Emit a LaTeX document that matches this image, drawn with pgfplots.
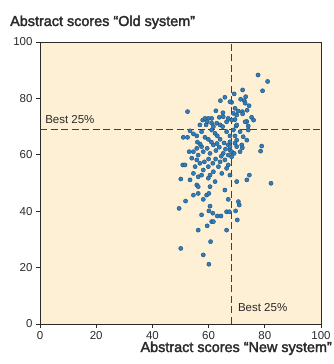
\documentclass[border=0pt]{standalone}
\usepackage{pgfplots}
\pgfplotsset{compat=1.18}
\usepackage{fontspec}
\setmainfont{Liberation Sans}
\newfontfamily\medfont[FakeBold=2.2]{Liberation Sans}
\definecolor{bgc}{HTML}{FEF0D5}
\definecolor{dotc}{HTML}{2F7DBB}
\definecolor{dote}{HTML}{1E4F78}
\definecolor{txt}{HTML}{2A2A2A}
\begin{document}
\begin{tikzpicture}
\useasboundingbox (-40bp,-40bp) rectangle (294bp,324bp);
\begin{axis}[
  scale only axis, width=281bp, height=282bp,
  xmin=0, xmax=100, ymin=0, ymax=100,
  xtick={0,20,...,100}, ytick={0,20,...,100},
  tick align=outside, major tick length=4bp,
  xtick pos=bottom, ytick pos=left,
  axis background/.style={fill=bgc},
  axis line style={draw=txt, line width=0.8pt},
  tick style={draw=txt, line width=0.7pt},
  /pgf/number format/assume math mode=true,
  ticklabel style={font=\fontsize{11.5bp}{13bp}\selectfont, text=txt},
  clip=false,
]
\draw[dash pattern=on 7bp off 3.5bp, draw=black!75, line width=0.8pt] (axis cs:0,69) -- (axis cs:100,69);
\draw[dash pattern=on 7bp off 3.5bp, draw=black!75, line width=0.8pt] (axis cs:68,0) -- (axis cs:68,100);
\addplot[only marks, mark=*, mark size=2.1bp, mark options={fill=dotc, draw=dote, line width=0.4pt}] coordinates {
(77.6,88.3) (81.0,86.0) (79.2,82.7) (72.1,83.0) (69.1,81.6) (65.8,80.4) (64.2,79.2) (71.4,79.7)
(73.2,80.6) (72.7,79.2) (68.2,78.6) (74.4,77.4) (62.6,75.6) (69.4,76.5) (70.5,75.5) (72.0,75.3)
(73.7,75.8) (65.1,74.9) (65.2,73.5) (67.0,72.9) (69.4,72.5) (72.1,74.5) (75.3,73.3) (76.0,72.3)
(73.6,71.8) (74.1,70.2) (69.8,70.2) (74.1,68.8) (52.5,75.3) (67.6,78.8) (70.0,74.1) (68.8,74.7)
(63.8,73.3) (61.1,72.9) (59.9,72.9) (73.0,78.3)
(57.9,72.3) (58.7,72.9) (59.5,71.7) (56.9,70.6) (59.1,70.6) (61.1,71.2) (61.7,70.0) (62.9,71.2)
(64.1,70.6) (65.0,70.0) (66.4,71.7) (68.2,72.3) (70.0,70.6) (73.0,71.7)
(51.0,66.2) (52.5,66.2) (53.4,68.5) (54.6,67.4) (55.8,66.7) (57.5,68.2) (58.7,66.2) (59.9,65.5)
(61.1,68.8) (62.3,67.6) (63.1,66.7) (64.1,65.5) (66.4,68.2) (67.6,66.7) (68.8,68.8) (69.4,66.7)
(70.0,65.2) (71.2,68.2) (72.3,66.4) (73.6,65.2)
(54.6,61.1) (55.8,62.3) (56.3,59.9) (57.5,62.9) (58.1,61.1) (59.5,62.3) (60.5,60.5) (61.7,63.5)
(62.6,61.5) (63.8,62.7) (65.2,60.5) (67.0,63.5) (67.6,61.7) (68.2,59.3) (70.0,62.9) (71.2,61.1)
(53.1,61.1) (54.0,58.8) (55.8,58.2) (71.8,63.5) (72.0,62.5) (78.9,63.1) (78.5,61.3)
(50.8,56.4) (51.6,56.4) (55.2,55.8) (56.9,57.0) (58.1,54.6) (59.9,55.8) (60.5,52.8) (61.7,54.0)
(63.5,55.8) (64.7,53.4) (66.4,55.2) (67.6,52.8) (50.1,51.4) (54.6,53.4) (56.3,52.2) (57.5,52.8)
(74.5,52.8)
(53.4,51.1) (59.9,51.7) (62.3,50.5) (70.0,50.5) (73.6,51.1) (82.2,49.9) (55.8,49.3) (56.3,48.7)
(60.5,48.7) (56.3,46.3) (54.6,45.7) (59.3,45.7) (60.1,46.3) (58.1,44.2) (65.8,47.5) (67.0,44.2)
(70.6,43.4) (70.9,42.2) (51.8,43.6) (49.5,41.0) (57.5,38.7) (60.5,41.8) (60.1,40.1) (61.5,39.3)
(63.1,38.3) (64.4,38.3) (66.4,39.8) (67.4,39.8) (69.6,40.1) (70.2,36.9) (61.1,36.3) (61.7,36.3)
(59.5,34.8) (56.3,33.3) (66.4,33.3) (60.7,29.2) (50.1,26.8) (58.1,24.5) (60.1,21.2)
(67.6,64.6) (67.6,62.9) (68.2,61.1) (67.0,59.9) (69.4,64.1) (69.1,60.5) (65.8,58.2) (67.0,56.4)
(64.1,57.5) (62.5,58.5) (60.0,58.5) (58.5,57.5) (57.0,63.8) (61.0,64.5) (63.0,64.0) (65.5,64.2)
(66.0,62.0) (64.5,59.5) (61.5,57.0) (56.0,64.5)
};
\node[anchor=base west, font=\fontsize{11.5bp}{13bp}\selectfont, text=txt, inner sep=0pt] at (axis cs:1.8,71.2) {Best 25\%};
\node[anchor=base west, font=\fontsize{11.5bp}{13bp}\selectfont, text=txt, inner sep=0pt] at (axis cs:70.4,4.3) {Best 25\%};
\end{axis}
\node[anchor=base west, font=\medfont\fontsize{14.4bp}{16bp}\selectfont, text=txt, inner sep=0pt] at (-30bp,298bp) {Abstract scores “Old system”};
\node[anchor=base east, font=\medfont\fontsize{14.4bp}{16bp}\selectfont, text=txt, inner sep=0pt] at (292bp,-28bp) {Abstract scores “New system”};
\end{tikzpicture}
\end{document}
